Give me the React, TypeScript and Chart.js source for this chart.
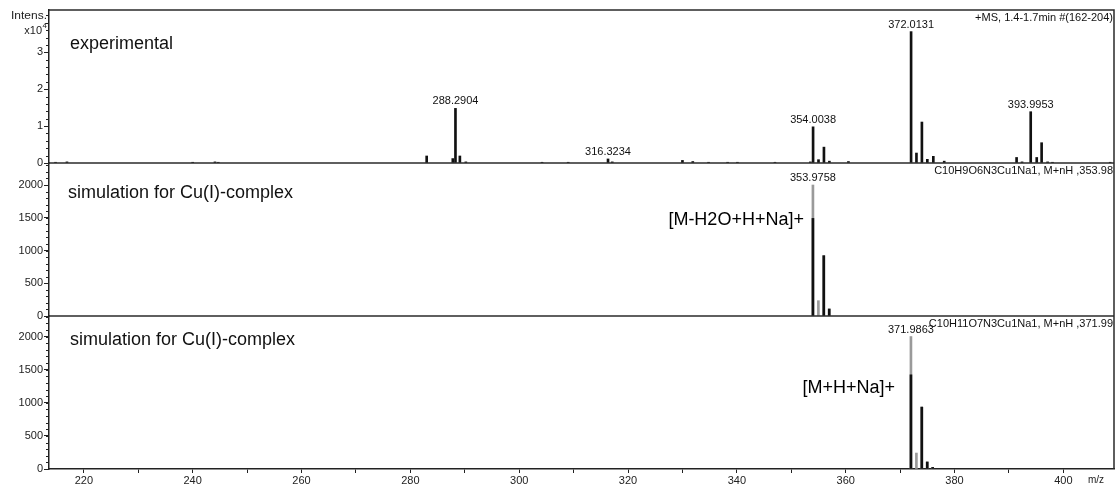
import React, { useEffect, useRef } from 'react';
import { Chart, registerables } from 'chart.js';

Chart.register(...registerables);

// ---- axis values ----
const xMin = 213.6;
const xMax = 409.3;
const xTickValues = [220, 230, 240, 250, 260, 270, 280, 290, 300, 310, 320, 330, 340, 350, 360, 370, 380, 390, 400];
const xLabelValues = [220, 240, 260, 280, 300, 320, 340, 360, 380, 400];

const yExpMax = 41460;
const yExpTicks = [0, 10000, 20000, 30000];
const yExpMinorStep = 2000;
const ySim1Max = 2336;
const ySim2Max = 2310;
const ySimTicks = [0, 500, 1000, 1500, 2000];
const ySimMinorStep = 100;

// ---- experimental spectrum (m/z, intensity counts) ----
const expMz = [214.8, 216.9, 240.0, 244.1, 244.7, 283.0, 287.8, 288.2904, 289.1, 290.2, 304.2, 309.0, 316.3234, 317.1, 330.0, 331.9, 334.8, 338.3, 340.1, 347.0, 353.5, 354.0038, 355.0, 356.0, 357.0, 360.5, 372.0131, 373.0, 374.0, 375.0, 376.1, 378.1, 391.4, 392.4, 393.9953, 395.1, 396.0, 397.1, 398.0, 408.6];
const expIntensity = [200, 300, 200, 300, 200, 1900, 1200, 14800, 1900, 300, 200, 200, 1100, 300, 700, 400, 200, 200, 200, 200, 300, 9800, 900, 4300, 500, 400, 35600, 2700, 11100, 1000, 1800, 500, 1500, 300, 13900, 1500, 5500, 300, 200, 200];
const expLabelMz = [288.2904, 316.3234, 354.0038, 372.0131, 393.9953];

// ---- simulation 1: C10H9O6N3Cu1Na1 ----
const sim1CentroidMz = [353.9758, 354.98, 355.97, 356.97];
const sim1CentroidIntensity = [2000, 234, 921, 107];
const sim1ProfileMz = [353.9758, 355.97, 356.97];
const sim1ProfileIntensity = [1490, 921, 107];
const sim1LabelMz = [353.9758];

// ---- simulation 2: C10H11O7N3Cu1Na1 ----
const sim2CentroidMz = [371.9863, 372.99, 373.98, 374.98, 375.98];
const sim2CentroidIntensity = [2000, 241, 935, 106, 24];
const sim2ProfileMz = [371.9863, 373.98, 374.98, 375.98];
const sim2ProfileIntensity = [1422, 935, 106, 24];
const sim2LabelMz = [371.9863];

// ---- texts ----
const panelTitles = ['experimental', 'simulation for Cu(I)-complex', 'simulation for Cu(I)-complex'];
const headerTexts = ['+MS, 1.4-1.7min #(162-204)', 'C10H9O6N3Cu1Na1, M+nH ,353.98', 'C10H11O7N3Cu1Na1, M+nH ,371.99'];
const ionLabels = ['[M-H2O+H+Na]+', '[M+H+Na]+'];

const FONT = '"Liberation Sans", Arial, Helvetica, sans-serif';

export default function App() {
  const ref = useRef<HTMLCanvasElement>(null);

  useEffect(() => {
    document.body.style.margin = '0';
    const canvas = ref.current;
    if (!canvas) return;

    const pts = (mz: number[], it: number[]) => mz.map((m, i) => ({ x: m, y: it[i] }));
    const lookup = (mz: number[], it: number[], m: number) => {
      let best = 0;
      mz.forEach((v, i) => { if (Math.abs(v - m) < Math.abs(mz[best] - m)) best = i; });
      return it[best];
    };

    const overlay = {
      id: 'overlay',
      afterDraw(chart: any) {
        const ctx = chart.ctx as CanvasRenderingContext2D;
        const { left, right, top, bottom } = chart.chartArea;
        const x = chart.scales.x;
        const yE = chart.scales.yExp;
        const y1 = chart.scales.ySim1;
        const y2 = chart.scales.ySim2;
        ctx.save();

        // minor ticks
        ctx.strokeStyle = '#222';
        ctx.lineWidth = 1;
        const minor = (sc: any, step: number, max: number) => {
          for (let v = 0; v <= max + 1e-6; v += step) {
            const py = Math.round(sc.getPixelForValue(v)) + 0.5;
            ctx.beginPath();
            ctx.moveTo(left - 3, py);
            ctx.lineTo(left, py);
            ctx.stroke();
          }
        };
        minor(yE, yExpMinorStep, yExpMax);
        minor(y1, ySimMinorStep, ySim1Max);
        minor(y2, ySimMinorStep, ySim2Max);

        // frame & separators
        ctx.strokeStyle = '#2a2a2a';
        ctx.lineWidth = 1.5;
        ctx.beginPath();
        ctx.moveTo(left, top);
        ctx.lineTo(right, top);
        ctx.lineTo(right, bottom);
        ctx.stroke();
        [yE.getPixelForValue(0), y1.getPixelForValue(0)].forEach((py: number) => {
          ctx.beginPath();
          ctx.moveTo(left, py);
          ctx.lineTo(right, py);
          ctx.stroke();
        });

        // Intens. label
        ctx.fillStyle = '#222';
        ctx.textAlign = 'right';
        ctx.textBaseline = 'middle';
        ctx.save();
        ctx.translate(left - 2, top + 6);
        ctx.scale(1.2, 1);
        ctx.font = `10px ${FONT}`;
        ctx.fillText('Intens.', 0, 0);
        ctx.restore();
        ctx.font = `11px ${FONT}`;
        ctx.fillText('x10', left - 7, top + 21);
        ctx.font = `8px ${FONT}`;
        ctx.fillText('4', left - 2, top + 16);

        // panel titles
        ctx.fillStyle = '#111';
        ctx.textAlign = 'left';
        ctx.textBaseline = 'alphabetic';
        ctx.font = `18px ${FONT}`;
        ctx.fillText(panelTitles[0], left + 21, yE.top + 39);
        ctx.fillText(panelTitles[1], left + 19, y1.top + 35);
        ctx.fillText(panelTitles[2], left + 21, y2.top + 29);

        // header texts (top right of each panel)
        ctx.textAlign = 'right';
        ctx.textBaseline = 'middle';
        ctx.font = `11px ${FONT}`;
        ctx.fillText(headerTexts[0], right - 1, yE.top + 8);
        ctx.fillText(headerTexts[1], right - 1, y1.top + 8);
        ctx.fillText(headerTexts[2], right - 1, y2.top + 8);

        // peak labels
        ctx.textAlign = 'center';
        ctx.textBaseline = 'middle';
        ctx.font = `11px ${FONT}`;
        const peakLabel = (sc: any, mzArr: number[], itArr: number[], m: number) => {
          const px = x.getPixelForValue(m);
          const py = sc.getPixelForValue(lookup(mzArr, itArr, m));
          ctx.fillText(m.toFixed(4), px, py - 7);
        };
        expLabelMz.forEach((m) => peakLabel(yE, expMz, expIntensity, m));
        sim1LabelMz.forEach((m) => peakLabel(y1, sim1CentroidMz, sim1CentroidIntensity, m));
        sim2LabelMz.forEach((m) => peakLabel(y2, sim2CentroidMz, sim2CentroidIntensity, m));

        // ion annotations
        ctx.textAlign = 'right';
        ctx.textBaseline = 'alphabetic';
        ctx.font = `18px ${FONT}`;
        ctx.fillStyle = '#000';
        ctx.fillText(ionLabels[0], x.getPixelForValue(sim1LabelMz[0]) - 9, y1.top + 62);
        ctx.fillText(ionLabels[1], x.getPixelForValue(sim2LabelMz[0]) - 16, y2.top + 77);

        // m/z
        ctx.textAlign = 'center';
        ctx.textBaseline = 'middle';
        ctx.font = `10px ${FONT}`;
        ctx.fillStyle = '#222';
        ctx.fillText('m/z', 1096, bottom + 11);
        ctx.restore();
      },
    };

    const yAxis = (max: number, ticks: number[], fmt: (v: number) => string) => ({
      type: 'linear' as const,
      position: 'left' as const,
      stack: 'ms',
      stackWeight: 1,
      min: 0,
      max,
      afterBuildTicks: (s: any) => { s.ticks = ticks.map((v) => ({ value: v })); },
      afterFit: (s: any) => { s.width = 49; },
      ticks: { autoSkip: false, padding: 1, color: '#222', font: { family: FONT, size: 11 }, callback: (v: any) => fmt(Number(v)) },
      grid: { drawOnChartArea: false, drawTicks: true, tickLength: 5, color: '#222' },
      border: { display: true, color: '#222', width: 1.5 },
    });

    const chart = new Chart(canvas, {
      type: 'bar',
      data: {
        datasets: [
          { label: 'experimental', data: pts(expMz, expIntensity), yAxisID: 'yExp', backgroundColor: '#111', barThickness: 2, grouped: false, borderWidth: 0 } as any,
          { label: 'sim1 profile', data: pts(sim1ProfileMz, sim1ProfileIntensity), yAxisID: 'ySim1', backgroundColor: '#111', barThickness: 2, grouped: false, borderWidth: 0 } as any,
          { label: 'sim1 centroid', data: pts(sim1CentroidMz, sim1CentroidIntensity), yAxisID: 'ySim1', backgroundColor: '#9a9a9a', barThickness: 2, grouped: false, borderWidth: 0 } as any,
          { label: 'sim2 profile', data: pts(sim2ProfileMz, sim2ProfileIntensity), yAxisID: 'ySim2', backgroundColor: '#111', barThickness: 2, grouped: false, borderWidth: 0 } as any,
          { label: 'sim2 centroid', data: pts(sim2CentroidMz, sim2CentroidIntensity), yAxisID: 'ySim2', backgroundColor: '#9a9a9a', barThickness: 2, grouped: false, borderWidth: 0 } as any,
        ],
      },
      options: {
        animation: false,
        responsive: false,
        devicePixelRatio: 1,
        layout: { padding: { top: 10, right: 3, left: 0, bottom: 0 } },
        plugins: { legend: { display: false }, tooltip: { enabled: false } },
        scales: {
          x: {
            type: 'linear',
            position: 'bottom',
            min: xMin,
            max: xMax,
            offset: false,
            afterBuildTicks: (s: any) => { s.ticks = xTickValues.map((v) => ({ value: v })); },
            afterFit: (s: any) => { s.height = 18; },
            ticks: {
              autoSkip: false, maxRotation: 0, padding: 1, color: '#222', font: { family: FONT, size: 11 },
              callback: (v: any) => (xLabelValues.includes(Number(v)) ? String(v) : ''),
            },
            grid: { drawOnChartArea: false, drawTicks: true, tickLength: 4, color: '#222', offset: false },
            border: { display: true, color: '#222', width: 1.5 },
          },
          // stacked y axes: the last listed is placed on top
          ySim2: yAxis(ySim2Max, ySimTicks, (v) => String(v)),
          ySim1: yAxis(ySim1Max, ySimTicks, (v) => String(v)),
          yExp: yAxis(yExpMax, yExpTicks, (v) => String(v / 10000)),
        } as any,
      },
      plugins: [overlay],
    });
    return () => chart.destroy();
  }, []);

  return <canvas ref={ref} width={1117} height={487} style={{ display: 'block' }} />;
}
